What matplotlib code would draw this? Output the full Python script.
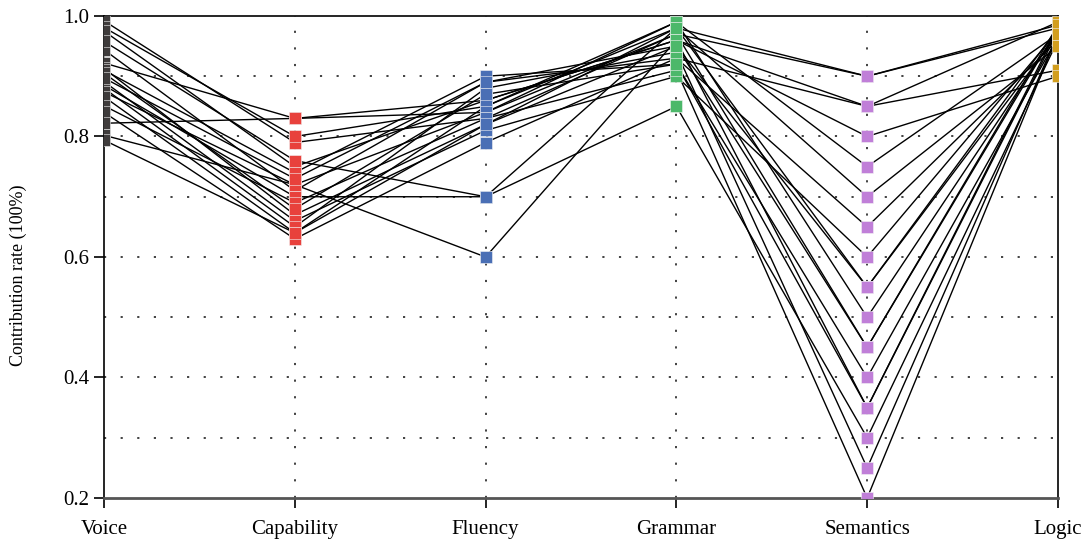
import matplotlib
matplotlib.use('Agg')
from matplotlib import pyplot as plt
import numpy as np

plt.rcParams['font.family'] = ['Liberation Serif', 'DejaVu Serif']

categories = ['Voice', 'Capability', 'Fluency', 'Grammar', 'Semantics', 'Logic']

voice = [0.992, 0.981, 0.975, 0.944, 0.922, 0.913, 0.910, 0.891, 0.885, 0.880,
         0.874, 0.866, 0.851, 0.840, 0.822, 0.802, 0.794, 0.905, 0.897, 0.958]
capability = [0.79, 0.80, 0.75, 0.71, 0.83, 0.67, 0.74, 0.66, 0.70, 0.65,
              0.72, 0.64, 0.69, 0.63, 0.83, 0.72, 0.64, 0.68, 0.73, 0.76]
fluency = [0.83, 0.85, 0.86, 0.89, 0.84, 0.82, 0.90, 0.81, 0.70, 0.88,
           0.84, 0.85, 0.83, 0.79, 0.86, 0.60, 0.82, 0.87, 0.89, 0.70]
grammar = [0.97, 0.98, 0.96, 0.93, 0.99, 0.95, 0.92, 0.90, 0.85, 0.94,
           0.97, 0.99, 0.91, 0.93, 0.96, 0.96, 0.98, 0.92, 0.95, 0.98]
semantics = [0.45, 0.90, 0.35, 0.85, 0.75, 0.55, 0.40, 0.60, 0.30, 0.25,
             0.90, 0.50, 0.20, 0.65, 0.85, 0.80, 0.70, 0.35, 0.45, 0.55]
logic = [0.98, 0.985, 0.975, 0.99, 0.97, 0.98, 0.965, 0.975, 0.96, 0.97,
         0.98, 0.975, 0.97, 0.96, 0.91, 0.90, 0.95, 0.98, 0.985, 0.97]

colors = ['#3f3c3c', '#e8413c', '#4a6fb5', '#4cb86a', '#c07fd8', '#d29e1e']

data = np.array([voice, capability, fluency, grammar, semantics, logic])
x = np.arange(len(categories))

fig = plt.figure(figsize=(10.88, 5.42), dpi=100)
ax = fig.add_axes([0.0956, 0.0812, 0.8768, 0.8893])

# grid lines (dotted)
for yv in np.arange(0.3, 1.0, 0.1):
    ax.axhline(yv, color='#333333', lw=1.3, ls=(0, (1.2, 8)), zorder=1)
for xv in x[1:-1]:
    ax.axvline(xv, color='#333333', lw=1.3, ls=(0, (1.2, 8)), zorder=1)

# one polyline per sample
for j in range(data.shape[1]):
    ax.plot(x, data[:, j], color='black', lw=1.0, zorder=2)

# markers on each axis
for i in range(len(categories)):
    ax.plot(np.full(data.shape[1], x[i]), data[i], ls='none', marker='s',
            ms=8.8, color=colors[i], mec='#f4f4f4', mew=0.4, zorder=3)

ax.set_xlim(0, 5)
ax.set_ylim(0.2, 1.0)
ax.set_xticks(x)
ax.set_xticklabels(categories, fontsize=15)
ax.set_yticks([0.2, 0.4, 0.6, 0.8, 1.0])
ax.set_yticklabels(['0.2', '0.4', '0.6', '0.8', '1.0'], fontsize=15)
ax.set_ylabel('Contribution rate (100%)', fontsize=13)
ax.yaxis.set_label_coords(-0.081, 0.463)
ax.tick_params(axis='y', direction='out', length=7.5, width=1.2, pad=3, colors='black')
ax.tick_params(axis='x', direction='out', length=7.5, width=1.2, pad=8, colors='black')
for s in ax.spines.values():
    s.set_linewidth(1.2)
ax.spines['bottom'].set_color('#555555')
ax.spines['bottom'].set_linewidth(2.0)

plt.savefig('out.png', dpi=100)
